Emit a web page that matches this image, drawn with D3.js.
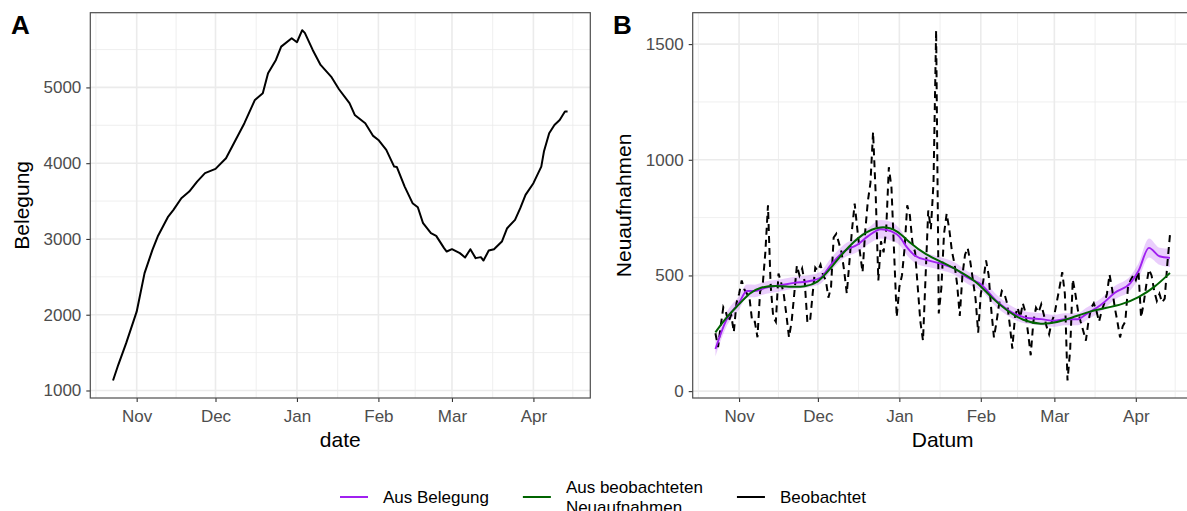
<!DOCTYPE html>
<html>
<head>
<meta charset="utf-8">
<script src="https://d3js.org/d3.v7.min.js"></script>
<style>
  body { margin: 0; background: #fff; }
  svg { font-family: "Liberation Sans", Arial, Helvetica, sans-serif; }
</style>
</head>
<body>
<div id="my_dataviz"></div>
<script>

// ---- Panel A: Belegung ----
var belegDates = ["2020-10-23","2020-10-25","2020-10-28","2020-11-01","2020-11-04","2020-11-07","2020-11-09",
  "2020-11-13","2020-11-15","2020-11-18","2020-11-21","2020-11-24","2020-11-27","2020-12-01","2020-12-05",
  "2020-12-08","2020-12-12","2020-12-16","2020-12-19","2020-12-21","2020-12-24","2020-12-26","2020-12-30",
  "2021-01-01","2021-01-03","2021-01-04","2021-01-07","2021-01-10","2021-01-14","2021-01-17","2021-01-21",
  "2021-01-23","2021-01-27","2021-01-30","2021-02-01","2021-02-04","2021-02-07","2021-02-08","2021-02-11",
  "2021-02-14","2021-02-16","2021-02-18","2021-02-21","2021-02-23","2021-02-26","2021-02-27","2021-03-01",
  "2021-03-04","2021-03-06","2021-03-08","2021-03-10","2021-03-12","2021-03-13","2021-03-15","2021-03-17",
  "2021-03-20","2021-03-22","2021-03-25","2021-03-27","2021-03-29","2021-04-01","2021-04-04","2021-04-05",
  "2021-04-07","2021-04-09","2021-04-11","2021-04-13","2021-04-14"];
var belegValues = [1132,1339,1625,2040,2549,2856,3032,
  3296,3384,3538,3625,3757,3868,3925,4066,
  4264,4528,4835,4924,5187,5363,5538,5649,
  5596,5755,5720,5495,5297,5143,4976,4792,
  4637,4528,4360,4307,4175,3955,3950,3691,
  3472,3419,3208,3076,3041,2879,2834,2865,
  2813,2755,2865,2747,2760,2715,2847,2865,
  2966,3142,3252,3406,3582,3736,3955,4153,
  4396,4505,4571,4681,4681];

// ---- Panel B: beobachtete Neuaufnahmen, daily from 2020-10-23 ----
var obsStart = "2020-10-23";
var obsValues = [
  250,190,280,363,340,300,330,255,380,          // Oct 23 - Oct 31
  420,478,440,421,400,300,300,                  // Nov 1 - 7
  233,430,460,600,803,460,320,                  // Nov 8 - 14
  300,508,470,420,330,233,300,                  // Nov 15 - 21
  420,543,500,530,470,298,300,                  // Nov 22 - 28
  420,534,520,547,500,480,404,                  // Nov 29 - Dec 5
  450,664,680,640,600,520,422,                  // Dec 6 - 12
  560,700,811,700,600,514,690,                  // Dec 13 - 19
  820,900,1120,850,478,648,600,                 // Dec 20 - 26
  700,968,880,600,320,450,500,                  // Dec 27 - Jan 2
  619,803,760,640,600,450,300,                  // Jan 3 - 9
  218,500,781,700,900,1560,336,                 // Jan 10 - 16
  447,680,767,700,605,550,460,                  // Jan 17 - 23
  325,500,590,619,560,480,400,                  // Jan 24 - 30
  253,420,480,565,500,350,232,                  // Jan 31 - Feb 6
  300,380,433,420,380,290,184,                  // Feb 7 - 13
  320,361,318,380,340,250,155,                  // Feb 14 - 20
  300,361,340,375,330,280,246,                  // Feb 21 - 27
  300,330,390,450,514,420,46,                   // Feb 28 - Mar 6
  175,483,420,347,300,260,218,                  // Mar 7 - 13
  304,360,380,347,300,347,380,                  // Mar 14 - 20
  420,504,440,361,300,232,280,                  // Mar 21 - 27
  300,447,480,500,480,519,318,                  // Mar 28 - Apr 3
  380,460,526,500,433,390,420,                  // Apr 4 - 10
  383,400,550,676                               // Apr 11 - 14
];

// smoothed estimate "Aus Belegung" with its band
var smoothDates = ["2020-10-23","2020-10-27","2020-11-01","2020-11-04","2020-11-07","2020-11-11","2020-11-17",
  "2020-11-22","2020-11-28","2020-12-02","2020-12-06","2020-12-11","2020-12-16","2020-12-20","2020-12-25",
  "2020-12-29","2021-01-01","2021-01-04","2021-01-07","2021-01-12","2021-01-17","2021-01-22","2021-01-27",
  "2021-02-01","2021-02-07","2021-02-13","2021-02-18","2021-02-24","2021-03-01","2021-03-05","2021-03-10",
  "2021-03-13","2021-03-19","2021-03-24","2021-03-30","2021-04-02","2021-04-06","2021-04-10","2021-04-14"];
var belegSmooth = [182,304,382,433,433,447,458,468,476,490,547,605,633,669,700,690,668,620,585,565,550,530,490,
  462,390,340,318,311,304,311,311,332,375,425,468,519,619,583,576];
var belegLow = [150,274,353,405,406,420,432,442,450,464,519,576,601,634,660,650,632,586,554,536,522,503,463,
  435,363,314,292,285,278,285,285,305,347,396,437,486,578,546,536];
var belegHigh = [214,334,411,461,460,474,484,494,502,516,575,634,665,704,740,730,704,654,616,594,578,557,517,
  489,417,366,344,337,330,337,337,359,403,454,499,552,660,620,616];

// smoothed estimate "Aus beobachteten Neuaufnahmen"
var neuDates = ["2020-10-23","2020-10-27","2020-11-01","2020-11-05","2020-11-09","2020-11-15","2020-11-21",
  "2020-11-26","2020-12-01","2020-12-05","2020-12-11","2020-12-18","2020-12-25","2020-12-31","2021-01-05",
  "2021-01-11","2021-01-18","2021-01-25","2021-01-31","2021-02-05","2021-02-11","2021-02-17","2021-02-24",
  "2021-03-02","2021-03-08","2021-03-13","2021-03-20","2021-03-27","2021-04-02","2021-04-08","2021-04-14"];
var neuSmooth = [254,318,375,425,450,457,450,451,468,519,605,683,716,698,640,590,554,511,468,404,347,304,287,
  297,318,340,358,375,404,447,511];

var monthLabels = ["Nov","Dec","Jan","Feb","Mar","Apr"];
var yTicksA = [1000,2000,3000,4000,5000];
var yTicksB = [0,500,1000,1500];

var parse = d3.utcParse("%Y-%m-%d");

var svg = d3.select("#my_dataviz").append("svg")
  .attr("width", 1187).attr("height", 511);

var plotTop = 12.7, plotBottom = 398;
var panels = [{left: 90.3, right: 590.3}, {left: 692.7, right: 1192.7}];

// date extent shared by both panels, expanded like ggplot (5%)
var d0 = parse("2020-10-23"), d1 = parse("2021-04-14");
var span = d1 - d0;
var xDomain = [new Date(+d0 - 0.05 * span), new Date(+d1 + 0.05 * span)];

function expand(ext) {
  var r = ext[1] - ext[0];
  return [ext[0] - 0.05 * r, ext[1] + 0.05 * r];
}

function drawFrame(p, x, y, yTicks, yMinor) {
  var g = svg.append("g");
  var months = d3.utcMonth.range(parse("2020-10-01"), parse("2021-06-01"));
  var minorX = [];
  for (var i = 0; i < months.length - 1; i++) {
    minorX.push(new Date((+months[i] + +months[i + 1]) / 2));
  }
  minorX = minorX.filter(function(d) { return d >= xDomain[0] && d <= xDomain[1]; });
  var majorX = months.filter(function(d) { return d >= xDomain[0] && d <= xDomain[1]; });

  // minor grid
  g.selectAll(".mx").data(minorX).enter().append("line")
    .attr("x1", x).attr("x2", x).attr("y1", plotTop).attr("y2", plotBottom)
    .attr("stroke", "#EBEBEB").attr("stroke-width", 0.8);
  g.selectAll(".my").data(yMinor).enter().append("line")
    .attr("x1", p.left).attr("x2", p.right).attr("y1", y).attr("y2", y)
    .attr("stroke", "#EBEBEB").attr("stroke-width", 0.8);
  // major grid
  g.selectAll(".Mx").data(majorX).enter().append("line")
    .attr("x1", x).attr("x2", x).attr("y1", plotTop).attr("y2", plotBottom)
    .attr("stroke", "#EBEBEB").attr("stroke-width", 1.6);
  g.selectAll(".My").data(yTicks).enter().append("line")
    .attr("x1", p.left).attr("x2", p.right).attr("y1", y).attr("y2", y)
    .attr("stroke", "#EBEBEB").attr("stroke-width", 1.6);

  // axes
  var xAxis = d3.axisBottom(x).tickValues(majorX)
    .tickFormat(function(d, i) { return monthLabels[i]; })
    .tickSize(4).tickPadding(8);
  var gx = svg.append("g").attr("transform", "translate(0," + plotBottom + ")").call(xAxis);
  var yAxis = d3.axisLeft(y).tickValues(yTicks).tickFormat(d3.format("d"))
    .tickSize(4).tickPadding(5);
  var gy = svg.append("g").attr("transform", "translate(" + p.left + ",0)").call(yAxis);
  [gx, gy].forEach(function(a) {
    a.select(".domain").remove();
    a.selectAll(".tick line").attr("stroke", "#333333").attr("stroke-width", 1.1);
    a.selectAll(".tick text").attr("fill", "#4D4D4D")
      .style("font-size", "17px").style("font-family", "Liberation Sans, Arial, sans-serif");
  });
}

function drawBorder(p) {
  svg.append("rect")
    .attr("x", p.left).attr("y", plotTop)
    .attr("width", p.right - p.left).attr("height", plotBottom - plotTop)
    .attr("fill", "none").attr("stroke", "#4D4D4D").attr("stroke-width", 1.2);
}

// ================= Panel A =================
var xA = d3.scaleUtc().domain(xDomain).range([panels[0].left, panels[0].right]);
var yA = d3.scaleLinear().domain(expand(d3.extent(belegValues))).range([plotBottom, plotTop]);
drawFrame(panels[0], xA, yA, yTicksA, [1500, 2500, 3500, 4500, 5500]);

var belegData = belegDates.map(function(d, i) { return {date: parse(d), value: belegValues[i]}; });
svg.append("path")
  .datum(belegData)
  .attr("fill", "none").attr("stroke", "black").attr("stroke-width", 2)
  .attr("stroke-linejoin", "round")
  .attr("d", d3.line().x(function(d) { return xA(d.date); }).y(function(d) { return yA(d.value); }));
drawBorder(panels[0]);

// ================= Panel B =================
var obsData = obsValues.map(function(v, i) {
  return {date: d3.utcDay.offset(parse(obsStart), i), value: v};
});
var xB = d3.scaleUtc().domain(xDomain).range([panels[1].left, panels[1].right]);
var yB = d3.scaleLinear().domain(expand(d3.extent(obsValues))).range([plotBottom, plotTop]);

svg.append("clipPath").attr("id", "clipB").append("rect")
  .attr("x", panels[1].left).attr("y", plotTop)
  .attr("width", panels[1].right - panels[1].left).attr("height", plotBottom - plotTop);

drawFrame(panels[1], xB, yB, yTicksB, [250, 750, 1250]);

var gB = svg.append("g").attr("clip-path", "url(#clipB)");
var smoothData = smoothDates.map(function(d, i) {
  return {date: parse(d), value: belegSmooth[i], lo: belegLow[i], hi: belegHigh[i]};
});
var neuData = neuDates.map(function(d, i) { return {date: parse(d), value: neuSmooth[i]}; });

gB.append("path").datum(smoothData)
  .attr("fill", "#A020F0").attr("fill-opacity", 0.22)
  .attr("d", d3.area().curve(d3.curveMonotoneX)
    .x(function(d) { return xB(d.date); })
    .y0(function(d) { return yB(d.lo); })
    .y1(function(d) { return yB(d.hi); }));

gB.append("path").datum(obsData)
  .attr("fill", "none").attr("stroke", "black").attr("stroke-width", 2)
  .attr("stroke-dasharray", "7,5")
  .attr("d", d3.line().x(function(d) { return xB(d.date); }).y(function(d) { return yB(d.value); }));

gB.append("path").datum(smoothData)
  .attr("fill", "none").attr("stroke", "#A020F0").attr("stroke-width", 1.9)
  .attr("d", d3.line().curve(d3.curveMonotoneX)
    .x(function(d) { return xB(d.date); }).y(function(d) { return yB(d.value); }));

gB.append("path").datum(neuData)
  .attr("fill", "none").attr("stroke", "#006400").attr("stroke-width", 2)
  .attr("d", d3.line().curve(d3.curveBasis)
    .x(function(d) { return xB(d.date); }).y(function(d) { return yB(d.value); }));

drawBorder(panels[1]);

// ================= titles and tags =================
function txt(x, y, s, size, opts) {
  var t = svg.append("text").attr("x", x).attr("y", y).text(s)
    .style("font-size", size + "px").attr("fill", "black");
  if (opts && opts.anchor) t.attr("text-anchor", opts.anchor);
  if (opts && opts.bold) t.style("font-weight", "bold");
  if (opts && opts.rotate) t.attr("transform", "rotate(-90," + x + "," + y + ")");
  return t;
}
txt(11, 34, "A", 26, {bold: true});
txt(613, 34, "B", 26, {bold: true});
txt(29, (plotTop + plotBottom) / 2, "Belegung", 21, {anchor: "middle", rotate: true});
txt(631, (plotTop + plotBottom) / 2, "Neuaufnahmen", 21, {anchor: "middle", rotate: true});
txt((panels[0].left + panels[0].right) / 2, 447, "date", 21, {anchor: "middle"});
txt((panels[1].left + panels[1].right) / 2, 447, "Datum", 21, {anchor: "middle"});

// ================= legend =================
var legendItems = [
  {label: ["Aus Belegung"], color: "#A020F0"},
  {label: ["Aus beobachteten", "Neuaufnahmen"], color: "#006400"},
  {label: ["Beobachtet"], color: "black"}
];
var lx = 340, ly = 497;
legendItems.forEach(function(item) {
  svg.append("line").attr("x1", lx).attr("x2", lx + 28).attr("y1", ly).attr("y2", ly)
    .attr("stroke", item.color).attr("stroke-width", 2);
  var tx = lx + 43, w = 0;
  item.label.forEach(function(line, j) {
    var yy = ly + 6 + (j - (item.label.length - 1) / 2) * 20;
    var t = txt(tx, yy, line, 17);
    w = Math.max(w, t.node().getComputedTextLength());
  });
  lx = tx + w + 34;
});

</script>
</body>
</html>
